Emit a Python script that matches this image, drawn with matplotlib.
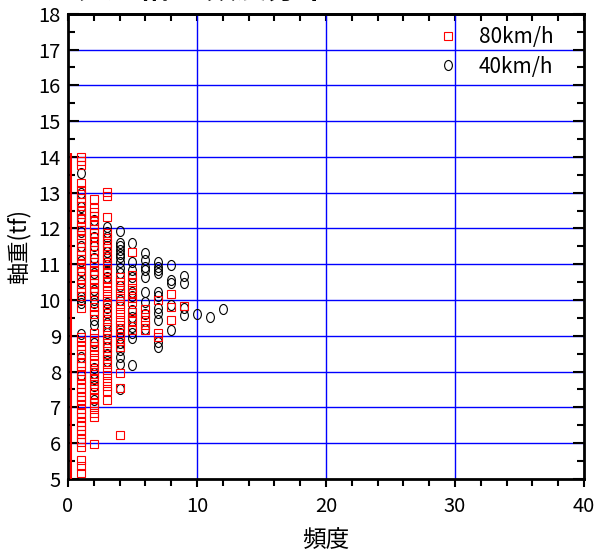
import numpy as np
import matplotlib
matplotlib.use("Agg")
import matplotlib.pyplot as plt
from matplotlib.path import Path
from matplotlib.ticker import MultipleLocator

plt.rcParams['font.family'] = ['Noto Sans CJK JP', 'DejaVu Sans']

# 頻度ごとの軸重 (tf)
freq = [1, 2, 3, 4, 5, 6, 7, 8, 9, 10, 11, 12]

axle80 = [
    [14.0, 13.9, 13.78, 13.27, 13.07, 12.97, 12.85, 12.75, 12.62, 12.5, 12.4, 12.28,
     12.18, 12.05, 11.95, 11.82, 11.7, 11.6, 11.48, 11.38, 11.25, 11.15, 11.02,
     10.9, 10.8, 10.68, 10.58, 10.45, 10.35, 10.22, 10.12, 9.78, 8.97, 8.85, 8.72,
     8.6, 8.5, 8.38, 8.25, 8.15, 8.02, 7.9, 7.78, 7.65, 7.55, 7.42, 7.3, 7.2, 7.08,
     6.95, 6.85, 6.72, 6.6, 6.48, 6.38, 6.25, 6.12, 6.02, 5.9, 5.53, 5.36, 5.17],
    [12.83, 12.57, 12.45, 12.35, 12.2, 12.1, 11.98, 11.88, 11.75, 11.62, 11.52,
     11.4, 11.3, 11.18, 11.05, 10.95, 10.82, 10.7, 10.58, 10.48, 10.35, 10.22,
     10.12, 9.8, 9.7, 9.6, 9.08, 8.95, 8.85, 8.72, 8.6, 8.45, 8.32, 8.2, 8.05, 7.92,
     7.78, 7.65, 7.5, 7.38, 7.25, 7.12, 7.0, 6.85, 6.72, 5.98],
    [13.03, 12.9, 12.33, 11.88, 11.72, 11.6, 11.45, 11.3, 11.18, 11.0, 10.88,
     10.75, 10.6, 10.5, 10.38, 10.25, 10.1, 9.98, 9.85, 9.7, 9.55, 9.4, 9.25, 9.1,
     8.95, 8.8, 8.65, 8.5, 8.35, 8.2, 8.05, 7.9, 7.75, 7.6, 7.45, 7.2],
    [10.65, 10.5, 10.35, 10.2, 10.05, 9.9, 9.75, 9.6, 9.45, 9.3, 9.15, 9.0, 8.85,
     8.7, 7.96, 7.54, 6.23],
    [11.35, 10.7, 10.5, 10.35, 10.2, 10.06, 9.95, 9.67, 9.5, 9.4, 9.17],
    [9.75, 9.6, 9.45, 9.3, 9.15],
    [10.0, 9.08, 8.97],
    [10.17, 9.81, 9.45],
    [9.84],
    [],
    [],
    [],
]

axle40 = [
    [13.55, 13.0, 12.6, 12.3, 11.9, 11.5, 11.1, 10.8, 10.5, 10.08, 10.0, 9.92,
     9.05, 8.4, 7.9],
    [12.24, 11.77, 11.5, 11.18, 10.76, 10.28, 10.0, 9.92, 9.45, 9.3, 8.8, 8.1,
     7.95, 7.8, 7.6, 7.2],
    [12.05, 11.9, 11.77, 11.5, 11.35, 11.2, 11.07, 10.8, 10.65, 9.92, 9.78, 9.64,
     9.36, 9.08, 8.9, 8.7, 8.5, 8.3],
    [11.93, 11.6, 11.5, 11.4, 11.3, 11.2, 11.05, 10.9, 10.76, 10.4, 10.0, 9.2,
     9.08, 8.95, 8.8, 8.6, 8.4, 8.2, 7.5],
    [11.6, 11.07, 10.84, 10.65, 10.23, 10.1, 9.73, 9.53, 9.25, 9.08, 8.94, 8.18],
    [11.32, 11.12, 10.93, 10.84, 10.65, 10.23, 9.95, 9.6, 9.2],
    [11.07, 10.93, 10.84, 10.76, 10.23, 10.1, 9.78, 9.64, 9.45, 8.83, 8.69],
    [10.98, 10.56, 10.48, 9.85, 9.17],
    [10.67, 10.48, 9.78, 9.59],
    [9.61],
    [9.53],
    [9.75],
]

# 頻度0の80km/hは軸際の縦線として見える
zero80_x = 0.22
zero80_range = (5.0, 14.1)

labels = ["80km/h", "40km/h"]


def flatten(cols):
    xs, ys = [], []
    for f, vals in zip(freq, cols):
        xs += [f] * len(vals)
        ys += vals
    return np.array(xs), np.array(ys)


x80, y80 = flatten(axle80)
x40, y40 = flatten(axle40)

# 縦長の楕円マーカー
uc = Path.unit_circle()
oval = Path(uc.vertices * np.array([0.78, 1.0]), uc.codes)

fig = plt.figure(figsize=(5.96, 5.53), dpi=100)
ax = fig.add_axes([0.114, 0.134, 0.866, 0.841])

for v in [10, 20, 30]:
    ax.axvline(v, color="#0000ff", lw=1.0, zorder=1)
for v in range(6, 18):
    ax.axhline(v, color="#0000ff", lw=1.0, zorder=1)

ax.vlines(zero80_x, *zero80_range, color="red", lw=1.5, zorder=6)

h40, = ax.plot(x40, y40, ls="none", marker=oval, ms=7.2, mfc="none",
               mec="black", mew=0.8, zorder=3)
h80, = ax.plot(x80, y80, ls="none", marker="s", ms=5.6, mfc="none",
               mec="red", mew=0.8, zorder=4)

ax.set_xlim(0, 40)
ax.set_ylim(5, 18)
ax.xaxis.set_major_locator(MultipleLocator(10))
ax.xaxis.set_minor_locator(MultipleLocator(2))
ax.yaxis.set_major_locator(MultipleLocator(1))
ax.yaxis.set_minor_locator(MultipleLocator(0.5))

for s in ax.spines.values():
    s.set_linewidth(2.0)
    s.set_zorder(5)

ax.tick_params(axis="x", which="both", bottom=True, top=False, direction="out",
               width=1.5, labelsize=14.5, pad=6)
ax.tick_params(axis="x", which="major", length=6)
ax.tick_params(axis="x", which="minor", length=5)
ax.tick_params(axis="y", which="both", left=True, right=True, direction="in",
               width=1.5, labelsize=14.5, pad=5)
ax.tick_params(axis="y", which="major", length=8)
ax.tick_params(axis="y", which="minor", length=5)

# 上辺の目盛りは内向き
top = ax.secondary_xaxis("top")
top.set_xticks(np.arange(0, 41, 2))
top.tick_params(direction="in", length=5, width=1.5, labeltop=False)
top.spines["top"].set_linewidth(2.0)

ax.set_xlabel("頻度", fontsize=17, labelpad=9)
ax.set_ylabel("軸重(tf)", fontsize=16, labelpad=6)

leg = ax.legend([h80, h40], labels, loc="upper right", frameon=False,
                fontsize=15, handlelength=1.0, handletextpad=1.0,
                borderaxespad=0.2, labelspacing=0.35,
                bbox_to_anchor=(0.965, 1.0))

fig.text(0.015, 0.991, "トラック 軸重 頻度分布", fontsize=22, va="bottom",
         ha="left", fontweight="bold")

fig.savefig("out.png", dpi=100)
